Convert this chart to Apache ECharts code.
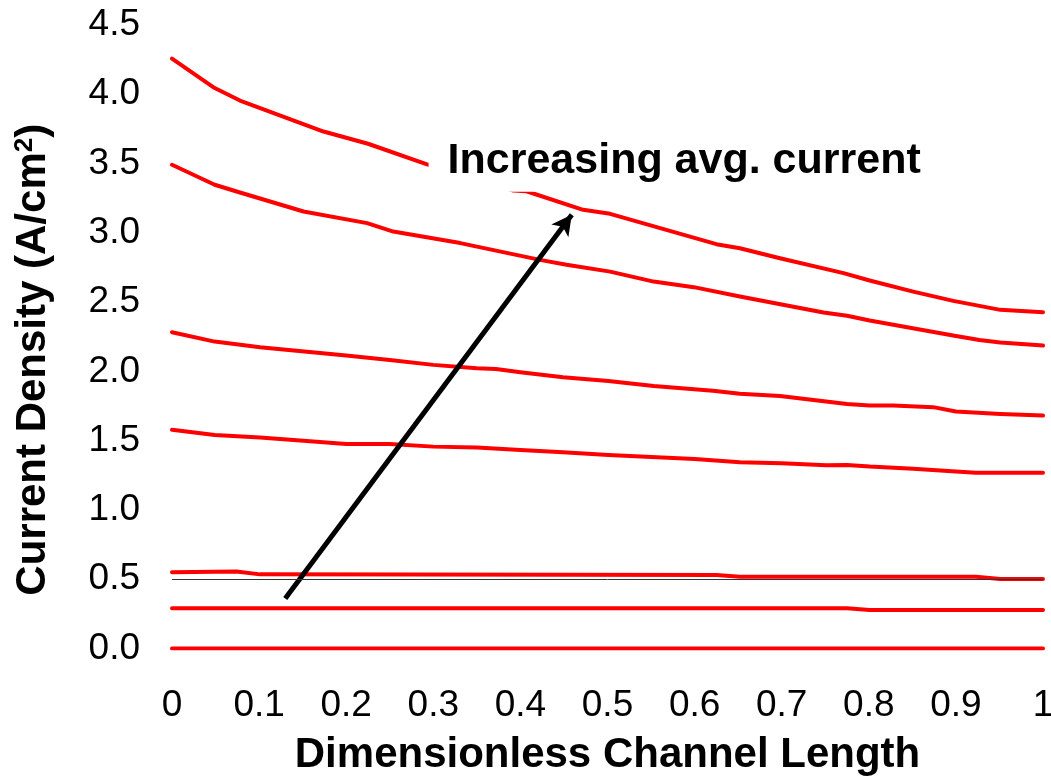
<!DOCTYPE html>
<html>
<head>
<meta charset="utf-8">
<script src="https://cdn.jsdelivr.net/npm/echarts@6/dist/echarts.min.js"></script>
<style>
html,body{margin:0;padding:0;background:#fff;}
#chart{width:1051px;height:776px;}
</style>
</head>
<body>
<div id="chart"></div>
<script>
// ---- data ----
var xTicks = [0, 0.1, 0.2, 0.3, 0.4, 0.5, 0.6, 0.7, 0.8, 0.9, 1];
var yTicks = [0, 0.5, 1, 1.5, 2, 2.5, 3, 3.5, 4, 4.5];

var line1X = [0, 0.049, 0.078, 0.174, 0.225, 0.292, 0.392, 0.407, 0.472, 0.503, 0.625, 0.652, 0.698, 0.771, 0.801, 0.851, 0.897, 0.951, 1.0];
var line1Y = [4.257, 4.045, 3.955, 3.731, 3.643, 3.496, 3.305, 3.300, 3.166, 3.137, 2.918, 2.889, 2.817, 2.709, 2.656, 2.576, 2.509, 2.444, 2.427];

var line2X = [0, 0.049, 0.078, 0.151, 0.224, 0.254, 0.331, 0.4225, 0.453, 0.503, 0.553, 0.599, 0.652, 0.748, 0.775, 0.801, 0.9, 0.927, 0.951, 1.0];
var line2Y = [3.491, 3.347, 3.291, 3.154, 3.070, 3.009, 2.926, 2.805, 2.769, 2.720, 2.648, 2.608, 2.540, 2.425, 2.401, 2.367, 2.256, 2.227, 2.208, 2.186];

var line3X = [0, 0.049, 0.101, 0.2, 0.25, 0.3, 0.35, 0.372, 0.4, 0.449, 0.501, 0.553, 0.621, 0.652, 0.698, 0.775, 0.801, 0.828, 0.874, 0.9, 0.951, 1.0];
var line3Y = [2.283, 2.215, 2.175, 2.114, 2.083, 2.047, 2.023, 2.018, 1.994, 1.958, 1.931, 1.895, 1.861, 1.838, 1.823, 1.765, 1.753, 1.753, 1.742, 1.710, 1.693, 1.681];

var line4X = [0, 0.049, 0.101, 0.151, 0.2, 0.25, 0.3, 0.35, 0.4, 0.449, 0.501, 0.6, 0.652, 0.7, 0.751, 0.775, 0.801, 0.851, 0.9, 0.923, 1.0];
var line4Y = [1.578, 1.541, 1.522, 1.500, 1.476, 1.476, 1.457, 1.450, 1.433, 1.417, 1.397, 1.368, 1.344, 1.337, 1.323, 1.325, 1.313, 1.298, 1.277, 1.269, 1.269];

var line5X = [0, 0.074, 0.101, 0.625, 0.652, 0.923, 0.951, 1.0];
var line5Y = [0.550, 0.555, 0.535, 0.530, 0.518, 0.518, 0.502, 0.502];

var line6X = [0, 0.775, 0.801, 1.0];
var line6Y = [0.290, 0.290, 0.278, 0.278];

var line7X = [0, 1.0];
var line7Y = [0, 0];

var refLineY = 0.5;
var arrowStart = [0.13, 0.36];
var arrowEnd = [0.459, 3.13];
var noteAnchor = [0.294, 3.52];
var noteText = 'Increasing avg. current';
var xTitle = 'Dimensionless Channel Length';
var yTitle = 'Current Density (A/cm{sup|2})';

// ---- chart ----
var FONT = "'Liberation Sans', Arial, Helvetica, sans-serif";
function zip(xs, ys) { return xs.map(function (x, i) { return [x, ys[i]]; }); }
var allLines = [[line1X, line1Y], [line2X, line2Y], [line3X, line3Y], [line4X, line4Y], [line5X, line5Y], [line6X, line6Y], [line7X, line7Y]];

var series = allLines.map(function (l, i) {
  return {
    type: 'line',
    data: zip(l[0], l[1]),
    showSymbol: false,
    symbol: 'none',
    lineStyle: { color: '#ff0000', width: 4, cap: 'round', join: 'round' },
    silent: true,
    z: 2
  };
});

series.push({
  type: 'line',
  data: [],
  silent: true,
  z: 10,
  markLine: {
    silent: true,
    animation: false,
    symbol: ['none', 'arrow'],
    symbolSize: [16, 20],
    label: { show: false },
    lineStyle: { color: '#000', width: 5, type: 'solid' },
    data: [[{ coord: arrowStart }, { coord: arrowEnd }]]
  },
  markPoint: {
    silent: true,
    animation: false,
    symbol: 'rect',
    symbolSize: 1,
    itemStyle: { color: 'rgba(0,0,0,0)' },
    label: {
      show: true,
      position: 'right',
      distance: 0,
      formatter: noteText,
      color: '#000',
      fontFamily: FONT,
      fontWeight: 'bold',
      fontSize: 43,
      backgroundColor: '#fff',
      padding: [8, 6, 11, 19]
    },
    data: [{ coord: noteAnchor }]
  }
});

series.push({
  type: 'line',
  data: [],
  silent: true,
  z: 1,
  markLine: {
    silent: true,
    animation: false,
    symbol: ['none', 'none'],
    label: { show: false },
    lineStyle: { color: '#333', width: 1, type: 'solid' },
    data: [{ yAxis: refLineY }]
  }
});

var option = {
  animation: false,
  backgroundColor: '#fff',
  grid: { left: 172, right: 8, top: 25, bottom: 127.5, containLabel: false, outerBoundsMode: 'none' },
  xAxis: {
    type: 'value',
    min: xTicks[0],
    max: xTicks[xTicks.length - 1],
    interval: 0.1,
    name: xTitle,
    nameLocation: 'middle',
    nameGap: 86,
    nameTextStyle: { fontFamily: FONT, fontWeight: 'bold', fontSize: 42, color: '#000' },
    axisLine: { show: false },
    axisTick: { show: false },
    splitLine: { show: false },
    axisLabel: {
      margin: 39,
      fontFamily: FONT,
      fontSize: 37,
      color: '#000',
      formatter: function (v) {
        var r = Math.round(v * 10) / 10;
        return (r === 0 || r === 1) ? String(r) : r.toFixed(1);
      }
    }
  },
  yAxis: {
    type: 'value',
    min: yTicks[0],
    max: yTicks[yTicks.length - 1],
    interval: 0.5,
    name: yTitle,
    nameLocation: 'middle',
    nameGap: 118,
    nameRotate: 90,
    nameTextStyle: {
      fontFamily: FONT, fontWeight: 'bold', fontSize: 42, color: '#000',
      padding: [0, 46, 0, 0],
      rich: {
        sup: { fontFamily: FONT, fontWeight: 'bold', fontSize: 26, color: '#000', verticalAlign: 'top', lineHeight: 42 }
      }
    },
    axisLine: { show: false },
    axisTick: { show: false },
    splitLine: { show: false },
    axisLabel: {
      margin: 32,
      fontFamily: FONT,
      fontSize: 37,
      color: '#000',
      formatter: function (v) { return v.toFixed(1); }
    }
  },
  series: series
};

var chart = echarts.init(document.getElementById('chart'), null, { renderer: 'canvas' });
chart.setOption(option);
</script>
</body>
</html>
